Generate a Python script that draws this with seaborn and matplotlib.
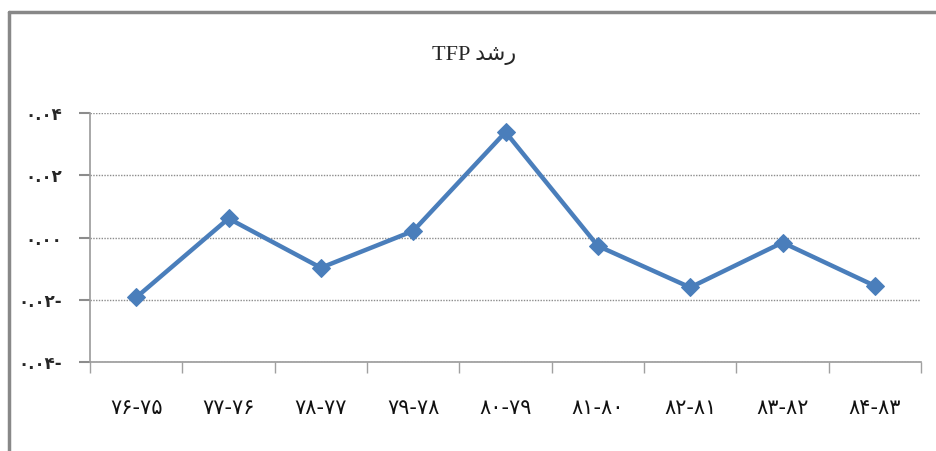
#!/usr/bin/env python3
"""TFP growth line chart (Persian labels)."""

import matplotlib.pyplot as plt
import matplotlib.lines as mlines
import pandas as pd
import seaborn as sns

periods = ["۷۶-۷۵", "۷۷-۷۶", "۷۸-۷۷", "۷۹-۷۸", "۸۰-۷۹",
           "۸۱-۸۰", "۸۲-۸۱", "۸۳-۸۲", "۸۴-۸۳"]
tfp_growth = [-0.0192, 0.0061, -0.0097, 0.0021, 0.0338,
              -0.0027, -0.0160, -0.0016, -0.0155]
y_ticks = [-0.04, -0.02, 0.0, 0.02, 0.04]
y_tick_labels = ["۰.۰۴-", "۰.۰۲-", "۰.۰۰", "۰.۰۲", "۰.۰۴"]
# "رشد TFP" written in visual order with presentation forms
title = "TFP \uFEAA\uFEB7\uFEAD"

sns.set_style("white")
plt.rcParams['font.family'] = ['DejaVu Sans']

df = pd.DataFrame({'period': periods, 'tfp': tfp_growth})

fig = plt.figure(figsize=(9.36, 4.51), dpi=100)
ax = fig.add_axes([0.0962, 0.1967, 0.8878, 0.5533])

sns.lineplot(data=df, x='period', y='tfp', ax=ax, color='#4a7ebb',
             linewidth=3.2, marker='D', markersize=9,
             markeredgecolor='#4a7ebb', sort=False)

ax.set_xlim(-0.5, len(periods) - 0.5)
ax.set_ylim(-0.04, 0.04)
ax.set_yticks(y_ticks)
ax.set_yticklabels(y_tick_labels, fontsize=12, fontweight='bold')
ax.set_xticks(range(len(periods)))
ax.set_xticklabels(periods, fontsize=15, color='#111111')
ax.set_xticks([i - 0.5 for i in range(len(periods) + 1)], minor=True)
ax.tick_params(axis='x', which='major', bottom=False, length=0, pad=26)
ax.tick_params(axis='x', which='minor', bottom=True, length=8,
               color='#a0a0a0', width=1)
ax.tick_params(axis='y', left=True, length=8, color='#8c8c8c', width=1.5,
               pad=12)
ax.set_xlabel('')
ax.set_ylabel('')

ax.grid(axis='y', color='#8c8c8c', linestyle=(0, (1, 1)), linewidth=1)
ax.set_axisbelow(True)
for side in ['top', 'right']:
    ax.spines[side].set_visible(False)
for side in ['left', 'bottom']:
    ax.spines[side].set_color('#9a9a9a')
    ax.spines[side].set_linewidth(1.2)

fig.text(0.507, 0.877, title, ha='center', va='center', fontsize=16,
         family=['Liberation Serif', 'DejaVu Sans'])

# outer chart border (top and left edges visible)
fig.add_artist(mlines.Line2D([8.5 / 936, 1.0], [1 - 11.5 / 451] * 2,
                             color='#888888', linewidth=2.5))
fig.add_artist(mlines.Line2D([8.5 / 936] * 2, [0.0, 1 - 11.5 / 451],
                             color='#888888', linewidth=2.5))

plt.savefig('out.png', dpi=100)
plt.close()
